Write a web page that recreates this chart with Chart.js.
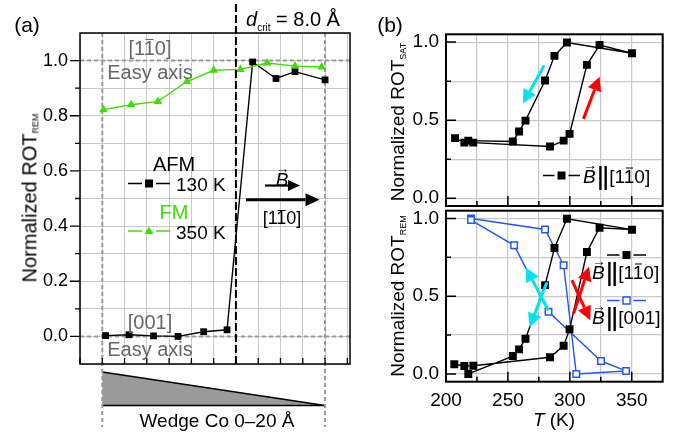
<!DOCTYPE html>
<html>
<head>
<meta charset="utf-8">
<script src="https://cdn.jsdelivr.net/npm/chart.js"></script>
<style>
body { margin: 0; background: #fff; }
#wrap { position: relative; width: 677px; height: 437px; overflow: hidden; font-family: 'Liberation Sans', Arial, sans-serif; color: #000; }
canvas { position: absolute; left: 0; top: 0; }
.t { position: absolute; white-space: nowrap; line-height: 1; transform: translate(-50%, -50%); }
.l { transform: translate(0, -50%); }
.rot { transform: translate(-50%, -50%) rotate(-90deg); }
.grey { color: #666; }
.ob { position: relative; }
.ob:after { content: ''; position: absolute; left: 0.1em; right: 0.06em; top: 0.1em; border-top: 1.5px solid currentColor; }
.vec { position: relative; display: inline-block; font-style: italic; }
.vec:before { content: '\2192'; position: absolute; left: 55%; top: -0.62em; transform: translateX(-50%); font-size: 0.72em; font-style: normal; }
.bars { display: inline-block; transform: scaleY(1.35); font-weight: bold; margin: 0 1px 0 2px; }
sub.s { font-size: 9px; vertical-align: -0.25em; }
</style>
</head>
<body>
<div id="wrap">
  <canvas id="ca" width="677" height="437"></canvas>
  <canvas id="cb1" width="677" height="437"></canvas>
  <canvas id="cb2" width="677" height="437"></canvas>

  <div class="t" style="left:27px;top:24px;font-size:21px">(a)</div>
  <div class="t l" style="left:246px;top:21px;font-size:20px"><i>d</i><sub style="font-size:10px">crit</sub> = 8.0 Å</div>
  <div class="t grey" style="left:150px;top:48px;font-size:20px">[1<span class="ob">1</span>0]</div>
  <div class="t grey" style="left:150px;top:72px;font-size:20px">Easy axis</div>
  <div class="t" style="left:174px;top:164px;font-size:20px">AFM</div>
  <div class="t l" style="left:176px;top:184px;font-size:19px">130 K</div>
  <div class="t" style="left:174px;top:212px;font-size:20px;color:#3be000">FM</div>
  <div class="t l" style="left:176px;top:232px;font-size:19px">350 K</div>
  <div class="t" style="left:282px;top:179px;font-size:19px"><span class="vec">B</span></div>
  <div class="t" style="left:282px;top:218px;font-size:18px">[1<span class="ob">1</span>0]</div>
  <div class="t grey" style="left:150px;top:322px;font-size:20px">[001]</div>
  <div class="t grey" style="left:150px;top:349px;font-size:20px">Easy axis</div>
  <div class="t" style="left:217px;top:420px;font-size:19px">Wedge Co 0–20 Å</div>
  <div class="t rot" style="left:30px;top:198px;font-size:20px">Normalized ROT<sub class="s">REM</sub></div>

  <div class="t" style="left:390px;top:24px;font-size:21px">(b)</div>
  <div class="t rot" style="left:398px;top:122px;font-size:19px">Normalized ROT<sub class="s">SAT</sub></div>
  <div class="t rot" style="left:398px;top:296px;font-size:19px">Normalized ROT<sub class="s">REM</sub></div>
  <div class="t" style="left:554px;top:419px;font-size:19px"><i>T</i> (K)</div>
  <div class="t l" style="left:583px;top:176px;font-size:19px"><span class="vec">B</span><span class="bars">||</span>[1<span class="ob">1</span>0]</div>
  <div class="t l" style="left:592px;top:272px;font-size:19px"><span class="vec">B</span><span class="bars">||</span>[1<span class="ob">1</span>0]</div>
  <div class="t l" style="left:592px;top:317px;font-size:19px"><span class="vec">B</span><span class="bars">||</span>[001]</div>
</div>

<script>
// (a) Co wedge thickness (Å) vs normalized ROT_REM
const afmThick = [19.7, 17.6, 15.4, 13.2, 10.9, 8.8, 6.5, 4.4, 2.7, 0.0];
const afmRot = [0.003, 0.006, 0.002, 0.0, 0.017, 0.024, 0.995, 0.935, 0.96, 0.93];
const fmThick = [19.9, 17.4, 15.0, 12.4, 10.0, 7.6, 5.2, 2.7, 0.3];
const fmRot = [0.822, 0.84, 0.852, 0.924, 0.965, 0.968, 0.991, 0.98, 0.977];
const dCrit = 8.0;
const thickTicks = [22, 20, 18, 16, 14, 12, 10, 8, 6, 4, 2, 0, -2];
const rotTicksA = [-0.1, 0, 0.1, 0.2, 0.3, 0.4, 0.5, 0.6, 0.7, 0.8, 0.9, 1.0, 1.1];

// (b) temperature loops (K), in measurement order
const satT = [207.3, 214.8, 222.0, 284.0, 295.0, 299.8, 313.8, 324.0, 350.2, 297.7, 287.6, 280.0, 264.2, 259.0, 254.0, 218.0];
const satRot = [0.385, 0.356, 0.356, 0.331, 0.369, 0.412, 0.854, 0.981, 0.929, 0.997, 0.912, 0.754, 0.497, 0.427, 0.363, 0.369];
const remT = [206.7, 214.8, 222.1, 284.0, 295.0, 299.8, 313.8, 324.0, 350.2, 297.7, 287.6, 280.0, 264.2, 259.0, 254.0, 218.0];
const remRot = [0.062, 0.051, 0.053, 0.107, 0.181, 0.287, 0.784, 0.94, 0.928, 0.998, 0.81, 0.571, 0.226, 0.158, 0.115, 0.0];
const rem001T = [220.2, 280.0, 295.0, 305.2, 345.4, 325.2, 282.8, 255.0, 220.2];
const rem001Rot = [1.0, 0.929, 0.699, 0.0, 0.019, 0.083, 0.40, 0.827, 0.99];
const tempTicks = [200, 225, 250, 275, 300, 325, 350, 375];
const rotTicksB = [0, 0.25, 0.5, 0.75, 1.0];

const GREEN = '#3be000', BLUE = '#2457f0', CYAN = '#00e4f0', RED = '#ff0000';
const GRID = '#c8c8c8', DASH = '#9a9a9a';
const FONT = "'Liberation Sans', Arial, sans-serif";

function pts(xs, ys) {
    return xs.map((x, i) => ({x: x, y: ys[i]}));
}

function arrow(ctx, x0, y0, x1, y1, color, lw, hl, hw) {
    let a = Math.atan2(y1 - y0, x1 - x0);
    let bx = x1 - hl * Math.cos(a), by = y1 - hl * Math.sin(a);
    ctx.save();
    ctx.strokeStyle = color;
    ctx.fillStyle = color;
    ctx.lineWidth = lw;
    ctx.beginPath();
    ctx.moveTo(x0, y0);
    ctx.lineTo(bx, by);
    ctx.stroke();
    ctx.beginPath();
    ctx.moveTo(x1, y1);
    ctx.lineTo(bx + hw / 2 * Math.sin(a), by - hw / 2 * Math.cos(a));
    ctx.lineTo(bx - hw / 2 * Math.sin(a), by + hw / 2 * Math.cos(a));
    ctx.closePath();
    ctx.fill();
    ctx.restore();
}

// legend symbol: line pieces with a marker in the middle
function legendMark(ctx, x0, x1, y, color, shape, open) {
    let xm = (x0 + x1) / 2;
    ctx.save();
    ctx.strokeStyle = color;
    ctx.fillStyle = color;
    ctx.lineWidth = 1.4;
    ctx.beginPath();
    ctx.moveTo(x0, y); ctx.lineTo(xm - 7, y);
    ctx.moveTo(xm + 7, y); ctx.lineTo(x1, y);
    ctx.stroke();
    ctx.beginPath();
    if (shape === 'tri') {
        ctx.moveTo(xm, y - 4.5); ctx.lineTo(xm + 4.5, y + 3); ctx.lineTo(xm - 4.5, y + 3); ctx.closePath(); ctx.fill();
    } else if (open) {
        ctx.fillStyle = '#fff';
        ctx.rect(xm - 3.5, y - 3.5, 7, 7); ctx.fill(); ctx.stroke();
    } else {
        ctx.rect(xm - 4, y - 4, 8, 8); ctx.fill();
    }
    ctx.restore();
}

function frameAndTicks(chart, o) {
    let ctx = chart.ctx, a = chart.chartArea, x = chart.scales.x, y = chart.scales.y;
    ctx.save();
    ctx.strokeStyle = '#000';
    ctx.lineWidth = o.lw;
    ctx.strokeRect(a.left, a.top, a.right - a.left, a.bottom - a.top);
    ctx.lineWidth = o.tw;
    ctx.beginPath();
    o.yMajor.forEach(v => { let p = y.getPixelForValue(v); ctx.moveTo(a.left, p); ctx.lineTo(a.left + o.dir * o.maj, p); });
    o.yMinor.forEach(v => { let p = y.getPixelForValue(v); ctx.moveTo(a.left, p); ctx.lineTo(a.left + o.dir * o.min, p); });
    o.xMajor.forEach(v => { let p = x.getPixelForValue(v); ctx.moveTo(p, a.bottom); ctx.lineTo(p, a.bottom - o.dir * o.xmaj); });
    o.xMinor.forEach(v => { let p = x.getPixelForValue(v); ctx.moveTo(p, a.bottom); ctx.lineTo(p, a.bottom - o.dir * o.xmin); });
    ctx.stroke();
    ctx.restore();
}

function baseOptions(padding) {
    return {
        responsive: false,
        animation: false,
        devicePixelRatio: 1,
        layout: {padding: padding},
        plugins: {legend: {display: false}, tooltip: {enabled: false}}
    };
}

// ---------- panel (a) ----------
let optsA = baseOptions({left: 40, top: 33, right: 327, bottom: 63});
optsA.scales = {
    x: {
        type: 'linear', reverse: true, min: -2.24, max: 22,
        afterBuildTicks: s => { s.ticks = thickTicks.map(v => ({value: v})); },
        afterFit: s => { s.height = 10; },
        ticks: {display: false},
        grid: {color: GRID, lineWidth: 1, drawTicks: false},
        border: {display: false}
    },
    y: {
        min: -0.1, max: 1.1,
        afterBuildTicks: s => { s.ticks = rotTicksA.map(v => ({value: v})); },
        afterFit: s => { s.width = 40; },
        ticks: {
            autoSkip: false, padding: 12, color: '#000',
            font: {family: FONT, size: 18},
            callback: v => {
                let k = Math.round(v * 10);
                return (k >= 0 && k <= 10 && k % 2 === 0) ? (k / 10).toFixed(1) : '';
            }
        },
        grid: {color: GRID, lineWidth: 1, drawTicks: false},
        border: {display: false}
    }
};

const decoA = {
    id: 'decoA',
    beforeDatasetsDraw(chart) {
        let ctx = chart.ctx, a = chart.chartArea, x = chart.scales.x, y = chart.scales.y;
        let x20 = x.getPixelForValue(20), x0 = x.getPixelForValue(0);
        ctx.save();
        // wedge below the axis
        ctx.fillStyle = '#9a9a9a';
        ctx.strokeStyle = '#000';
        ctx.lineWidth = 1.5;
        ctx.beginPath();
        ctx.moveTo(x20, 372); ctx.lineTo(x0, 405.5); ctx.lineTo(x20, 405.5); ctx.closePath();
        ctx.fill();
        ctx.beginPath();
        ctx.moveTo(x20, 372); ctx.lineTo(x0, 405.5); ctx.lineTo(x20, 405.5);
        ctx.stroke();
        // easy axis reference lines
        ctx.strokeStyle = DASH;
        ctx.lineWidth = 2;
        ctx.setLineDash([4, 3]);
        ctx.beginPath();
        [1.0, 0.0].forEach(v => { let p = y.getPixelForValue(v); ctx.moveTo(a.left, p); ctx.lineTo(a.right, p); });
        [x20, x0].forEach(p => { ctx.moveTo(p, a.top); ctx.lineTo(p, 427); });
        ctx.stroke();
        ctx.restore();
        frameAndTicks(chart, {
            lw: 1.5, tw: 1.3, dir: -1, maj: 10, min: 5, xmaj: -6, xmin: -6,
            yMajor: [0, 0.2, 0.4, 0.6, 0.8, 1.0], yMinor: [0.1, 0.3, 0.5, 0.7, 0.9],
            xMajor: thickTicks, xMinor: []
        });
    },
    afterDatasetsDraw(chart) {
        let ctx = chart.ctx, a = chart.chartArea, x = chart.scales.x, y = chart.scales.y;
        ctx.save();
        ctx.strokeStyle = '#000';
        ctx.lineWidth = 2;
        ctx.setLineDash([8, 3]);
        let xc = x.getPixelForValue(dCrit);
        ctx.beginPath();
        ctx.moveTo(xc, 4); ctx.lineTo(xc, a.bottom);
        ctx.stroke();
        ctx.restore();
        // field direction arrows
        arrow(ctx, x.getPixelForValue(5.4), y.getPixelForValue(0.547), x.getPixelForValue(2.25), y.getPixelForValue(0.547), '#000', 2.2, 12, 11);
        arrow(ctx, x.getPixelForValue(7.1), y.getPixelForValue(0.4955), x.getPixelForValue(0.5), y.getPixelForValue(0.4955), '#000', 3, 14, 13);
        legendMark(ctx, 128, 170, 183.5, '#000', 'rect', false);
        legendMark(ctx, 128, 170, 231, GREEN, 'tri', false);
    }
};

new Chart(document.getElementById('ca'), {
    type: 'scatter',
    data: {
        datasets: [{
            data: pts(fmThick, fmRot),
            showLine: true,
            borderColor: GREEN,
            backgroundColor: GREEN,
            borderWidth: 1.4,
            pointStyle: 'triangle',
            pointRadius: 5,
            pointBorderWidth: 0
        }, {
            data: pts(afmThick, afmRot),
            showLine: true,
            borderColor: '#000',
            backgroundColor: '#000',
            borderWidth: 1.4,
            pointStyle: 'rect',
            pointRadius: 4.8,
            pointBorderWidth: 0
        }]
    },
    options: optsA,
    plugins: [decoA]
});

// ---------- panel (b) ----------
function optsB(padding, xHeight, showX) {
    let o = baseOptions(padding);
    o.scales = {
        x: {
            type: 'linear', min: 200, max: 375,
            afterBuildTicks: s => { s.ticks = tempTicks.map(v => ({value: v})); },
            afterFit: s => { s.height = xHeight; },
            ticks: {
                display: showX, autoSkip: false, maxRotation: 0, padding: 8, color: '#000',
                font: {family: FONT, size: 19},
                callback: v => (v % 50 === 0 && v < 375) ? String(v) : ''
            },
            grid: {color: GRID, lineWidth: 1.2, drawTicks: false},
            border: {display: false}
        },
        y: {
            min: -0.05, max: 1.05,
            afterBuildTicks: s => { s.ticks = rotTicksB.map(v => ({value: v})); },
            afterFit: s => { s.width = 45; },
            ticks: {
                autoSkip: false, padding: 7, color: '#000',
                font: {family: FONT, size: 19},
                callback: v => (Math.round(v * 100) % 50 === 0) ? v.toFixed(1) : ''
            },
            grid: {color: GRID, lineWidth: 1.2, drawTicks: false},
            border: {display: false}
        }
    };
    return o;
}

const ticksB = {
    lw: 2, tw: 1.5, dir: 1, maj: 10, min: 5, xmaj: 10, xmin: 5,
    yMajor: [0, 0.5, 1.0], yMinor: [0.25, 0.75],
    xMajor: [250, 300, 350], xMinor: [225, 275, 325]
};

function loopSet(xs, ys, color, open) {
    return {
        data: pts(xs, ys),
        showLine: true,
        borderColor: color,
        backgroundColor: open ? '#fff' : color,
        borderWidth: 1.4,
        pointStyle: 'rect',
        pointRadius: open ? 4.6 : 5.6,
        pointBorderWidth: open ? 1.5 : 0
    };
}

const decoB1 = {
    id: 'decoB1',
    beforeDatasetsDraw(chart) { frameAndTicks(chart, ticksB); },
    afterDatasetsDraw(chart) {
        let ctx = chart.ctx, x = chart.scales.x, y = chart.scales.y;
        arrow(ctx, x.getPixelForValue(279.3), y.getPixelForValue(0.85), x.getPixelForValue(262), y.getPixelForValue(0.606), CYAN, 3, 14, 14);
        arrow(ctx, x.getPixelForValue(311), y.getPixelForValue(0.508), x.getPixelForValue(324), y.getPixelForValue(0.778), RED, 3, 14, 14);
        legendMark(ctx, 543, 580, 175.5, '#000', 'rect', false);
    }
};

new Chart(document.getElementById('cb1'), {
    type: 'scatter',
    data: {datasets: [loopSet(satT, satRot, '#000', false)]},
    options: optsB({left: 401, top: 34.3, right: 14.3, bottom: 231}, 0, false),
    plugins: [decoB1]
});

const decoB2 = {
    id: 'decoB2',
    beforeDatasetsDraw(chart) { frameAndTicks(chart, ticksB); },
    afterDatasetsDraw(chart) {
        let ctx = chart.ctx, x = chart.scales.x, y = chart.scales.y;
        let P = (t, v) => [x.getPixelForValue(t), y.getPixelForValue(v)];
        let c1 = P(282.7, 0.41).concat(P(264.5, 0.685));
        let c2 = P(281.5, 0.59).concat(P(267.5, 0.30));
        let r1 = P(303, 0.389).concat(P(315.5, 0.69));
        let r2 = P(301.7, 0.603).concat(P(316.5, 0.345));
        [[c1, CYAN], [c2, CYAN], [r1, RED], [r2, RED]].forEach(p => {
            arrow(ctx, p[0][0], p[0][1], p[0][2], p[0][3], p[1], 3, 14, 14);
        });
        legendMark(ctx, 607, 646, 255, '#000', 'rect', false);
        legendMark(ctx, 607, 646, 300.5, BLUE, 'rect', true);
    }
};

new Chart(document.getElementById('cb2'), {
    type: 'scatter',
    data: {
        datasets: [
            loopSet(remT, remRot, '#000', false),
            loopSet(rem001T, rem001Rot, BLUE, true)
        ]
    },
    options: optsB({left: 401, top: 210.7, right: 14.3, bottom: 27.3}, 28, true),
    plugins: [decoB2]
});
</script>
</body>
</html>
